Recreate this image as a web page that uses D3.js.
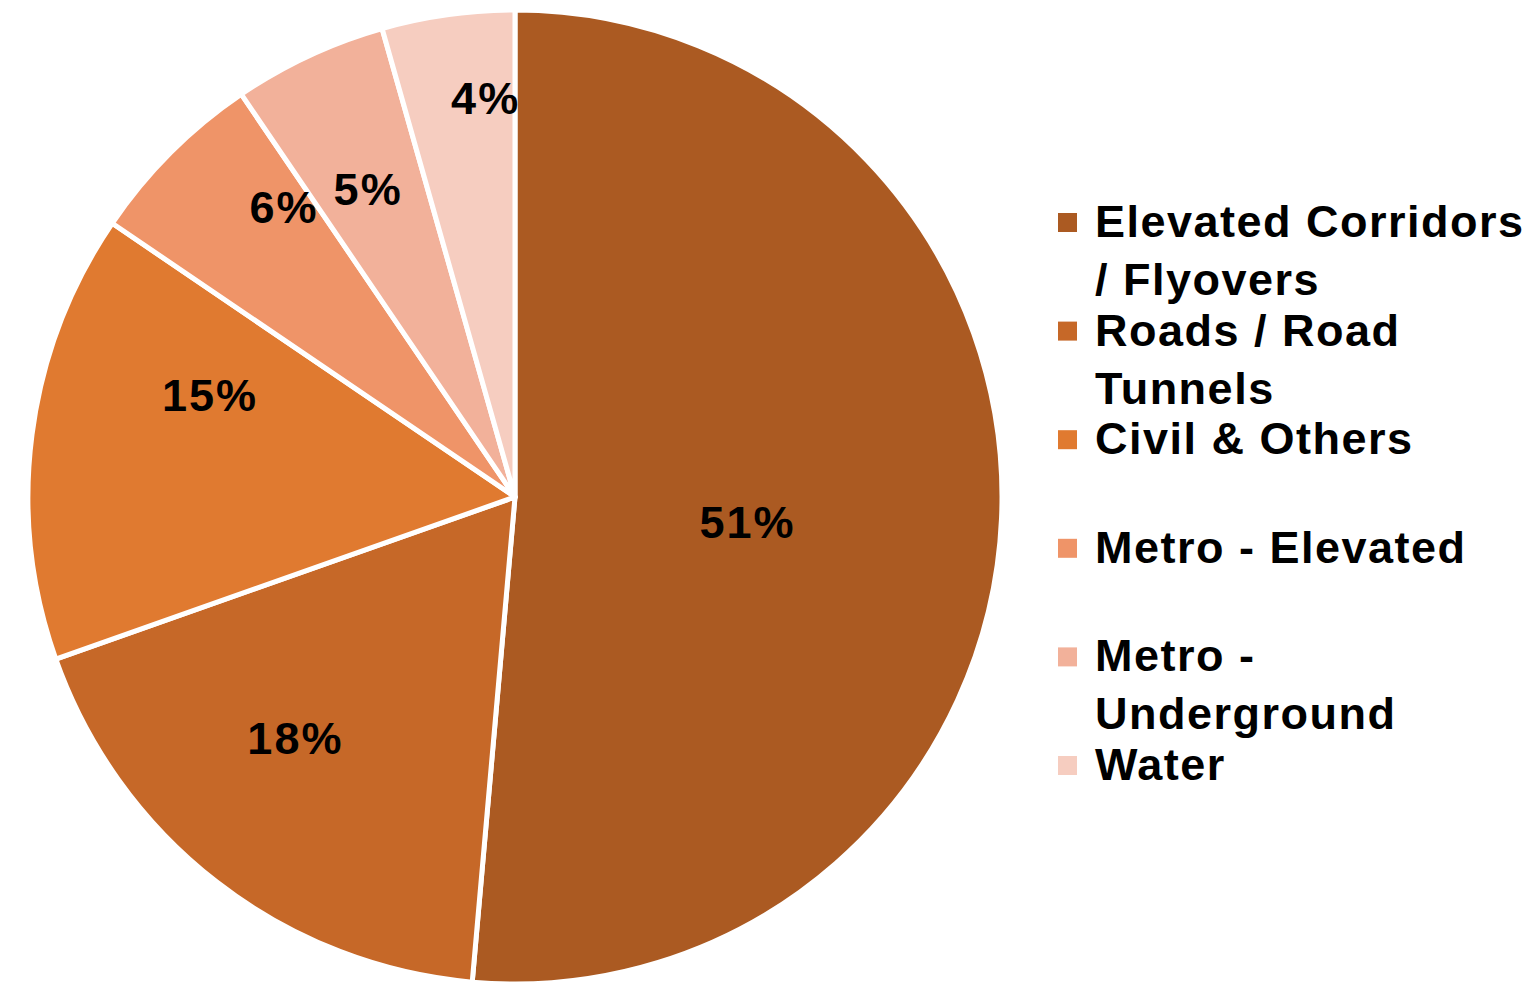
<!DOCTYPE html>
<meta charset="utf-8" />
<script src="https://d3js.org/d3.v7.min.js"></script>
<style>
  body { margin: 0; background: #fff; }
  text { font-family: "Liberation Sans", Arial, sans-serif; font-weight: bold; fill: #000; }
</style>
<body>
  <div id="chart"></div>
  <script>
    // data
    const categories = [
      "Elevated Corridors / Flyovers",
      "Roads / Road Tunnels",
      "Civil & Others",
      "Metro - Elevated",
      "Metro - Underground",
      "Water",
    ];
    const shares = [51.4, 18.2, 14.9, 6.0, 5.1, 4.4];
    const shareLabels = ["51%", "18%", "15%", "6%", "5%", "4%"];
    const colours = ["#ab5a22", "#c66828", "#e07a30", "#ef9468", "#f2b19a", "#f6cdc0"];

    // where each % label sits: fraction of radius, and a small turn (deg) off the slice middle
    const labelR = [0.48, 0.67, 0.66, 0.76, 0.70, 0.82];
    const labelTurn = [3.6, 4.5, 11, 6.4, -0.5, 3.7];

    const W = 1534, H = 986;
    const cx = 515, cy = 497, R = 487;

    const svg = d3.select("#chart").append("svg")
      .attr("width", W).attr("height", H);

    const data = categories.map((c, i) => ({ name: c, value: shares[i], label: shareLabels[i], colour: colours[i], i: i }));

    const pie = d3.pie().sort(null).value(d => d.value);
    const arcs = pie(data);
    const arc = d3.arc().innerRadius(0).outerRadius(R);

    const g = svg.append("g").attr("transform", `translate(${cx},${cy})`);

    g.selectAll("path")
      .data(arcs)
      .join("path")
      .attr("d", arc)
      .attr("fill", d => d.data.colour)
      .attr("stroke", "#fff")
      .attr("stroke-width", 5)
      .attr("stroke-linejoin", "round");

    g.selectAll("text.pct")
      .data(arcs)
      .join("text")
      .attr("class", "pct")
      .attr("transform", d => {
        const a = (d.startAngle + d.endAngle) / 2 + labelTurn[d.data.i] * Math.PI / 180;
        const r = R * labelR[d.data.i];
        return `translate(${r * Math.sin(a)},${-r * Math.cos(a)})`;
      })
      .attr("text-anchor", "middle")
      .attr("dy", "0.35em")
      .style("font-size", "45px")
      .style("letter-spacing", "2px")
      .text(d => d.data.label);

    // legend
    const legX = 1058, legY = 237, step = 108.6, lineH = 58, maxW = 440;
    const leg = svg.append("g");
    data.forEach((d, i) => {
      const y = legY + i * step;
      leg.append("rect")
        .attr("x", legX).attr("y", y - 24)
        .attr("width", 19).attr("height", 19)
        .attr("fill", d.colour);
      const t = leg.append("text")
        .attr("x", legX + 37).attr("y", y)
        .style("font-size", "45px")
        .style("letter-spacing", "1.5px");
      // simple word wrap
      const words = d.name.split(" ");
      let line = [];
      let ts = t.append("tspan").attr("x", legX + 37).attr("dy", 0);
      words.forEach(w => {
        line.push(w);
        ts.text(line.join(" "));
        if (ts.node().getComputedTextLength() > maxW && line.length > 1) {
          line.pop();
          ts.text(line.join(" "));
          line = [w];
          ts = t.append("tspan").attr("x", legX + 37).attr("dy", lineH).text(w);
        }
      });
    });
  </script>
</body>
